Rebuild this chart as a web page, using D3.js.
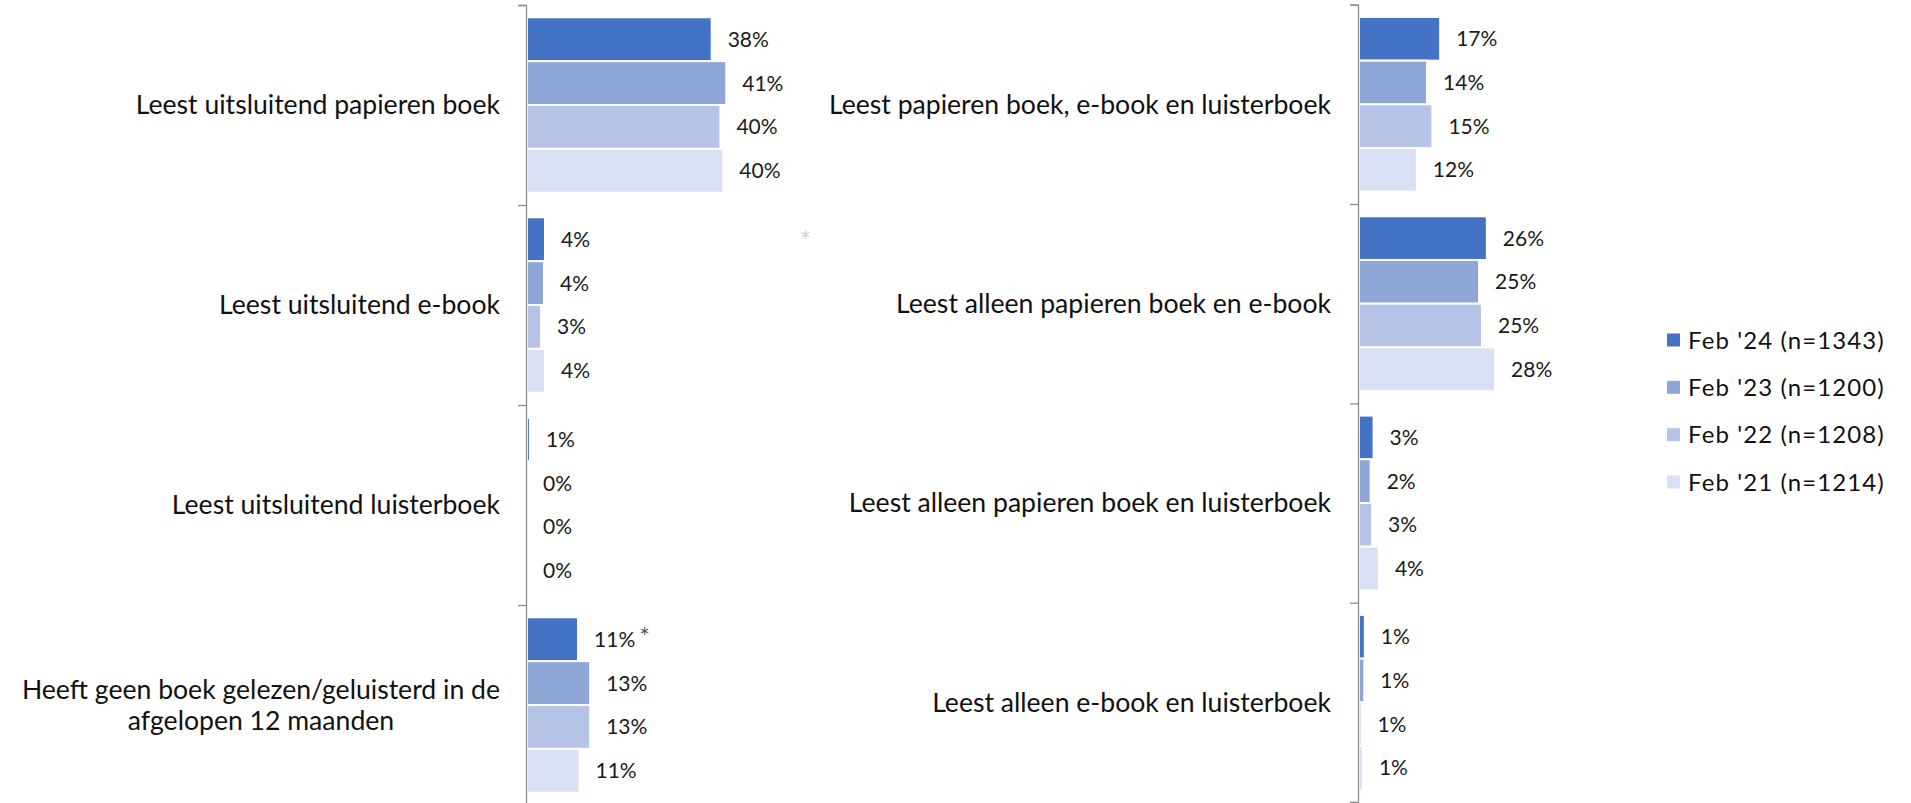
<!DOCTYPE html>
<html><head><meta charset="utf-8">
<script src="https://cdn.jsdelivr.net/npm/d3@7"></script>
<style>
html,body{margin:0;padding:0;background:#fff;}
svg{display:block;font-family:Lato,"Open Sans",sans-serif;}
</style></head><body>
<svg id="chart" width="1911" height="803"></svg>
<script>
// ---- data ----
const seriesNames = ["Feb '24 (n=1343)", "Feb '23 (n=1200)", "Feb '22 (n=1208)", "Feb '21 (n=1214)"];
const seriesColors = ["#4472C4", "#8FA7D7", "#B4C3E6", "#DAE0F3"];

const leftCategories = [
  ["Leest uitsluitend papieren boek"],
  ["Leest uitsluitend e-book"],
  ["Leest uitsluitend luisterboek"],
  ["Heeft geen boek gelezen/geluisterd in de", "afgelopen 12 maanden"]
];
// values per category: [Feb24, Feb23, Feb22, Feb21]
const leftValues = [
  [38.0, 41.0, 39.8, 40.4],
  [3.7, 3.5, 2.9, 3.7],
  [0.6, 0, 0, 0],
  [10.5, 13.0, 13.0, 10.8]
];
const leftLabels = [
  ["38%", "41%", "40%", "40%"],
  ["4%", "4%", "3%", "4%"],
  ["1%", "0%", "0%", "0%"],
  ["11%", "13%", "13%", "11%"]
];
const leftMarks = [["", "", "", ""], ["", "", "", ""], ["", "", "", ""], ["*", "", "", ""]];

const rightCategories = [
  ["Leest papieren boek, e-book en luisterboek"],
  ["Leest alleen papieren boek en e-book"],
  ["Leest alleen papieren boek en luisterboek"],
  ["Leest alleen e-book en luisterboek"]
];
const rightValues = [
  [16.7, 14.0, 15.1, 11.9],
  [26.3, 24.7, 25.3, 28.0],
  [3.0, 2.4, 2.7, 4.1],
  [1.2, 1.1, 0.5, 0.8]
];
const rightLabels = [
  ["17%", "14%", "15%", "12%"],
  ["26%", "25%", "25%", "28%"],
  ["3%", "2%", "3%", "4%"],
  ["1%", "1%", "1%", "1%"]
];
const rightMarks = [["", "", "", ""], ["", "", "", ""], ["", "", "", ""], ["", "", "", ""]];

const svg = d3.select("#chart");
const pxPerPct = 4.86;

function panel(cats, vals, labs, marks, axisX, yRange, labelRight) {
  const g = svg.append("g");
  const idx = cats.map((d, i) => i);
  const y = d3.scaleBand().domain(idx).range(yRange).paddingInner(0).paddingOuter(0);
  const ys = d3.scaleBand().domain(d3.range(seriesNames.length)).range([0, y.bandwidth()]).paddingOuter(0.28).paddingInner(0);
  const x = d3.scaleLinear().domain([0, 100]).range([axisX + 1, axisX + 1 + pxPerPct * 100]);

  cats.forEach((cat, ci) => {
    const cg = g.append("g").attr("transform", `translate(0,${y(ci)})`);
    vals[ci].forEach((v, si) => {
      if (v > 0) {
        cg.append("rect")
          .attr("x", x(0))
          .attr("y", ys(si))
          .attr("width", x(v) - x(0))
          .attr("height", ys.bandwidth())
          .attr("fill", seriesColors[si])
          .attr("stroke", "#fff")
          .attr("stroke-width", 2);
      }
      const t = cg.append("text")
        .attr("x", x(v) + 16)
        .attr("y", ys(si) + ys.bandwidth() / 2)
        .attr("dy", "0.36em")
        .attr("font-size", 21)
        .attr("fill", "#1a1a1a")
        .text(labs[ci][si]);
      if (marks[ci][si]) {
        t.append("tspan").attr("fill", "#595959").attr("font-size", 25).attr("dx", 4).attr("dy", "-0.05em").text(marks[ci][si]);
      }
    });
    // category label
    const cy = y(ci) + y.bandwidth() / 2;
    const lt = g.append("text").attr("font-size", 26.6).attr("fill", "#111");
    if (cat.length === 1) {
      lt.attr("x", labelRight).attr("y", cy).attr("dy", "0.35em").attr("text-anchor", "end").text(cat[0]);
    } else {
      const lh = 31;
      const tmp = [];
      cat.forEach((line, li) => {
        tmp.push(lt.append("tspan").attr("y", cy + (li - (cat.length - 1) / 2) * lh).attr("dy", "0.35em").text(line));
      });
      const w = d3.max(tmp, t => t.node().getComputedTextLength());
      const cx = labelRight - w / 2;
      lt.attr("text-anchor", "middle");
      tmp.forEach(t => t.attr("x", cx));
    }
  });

  // axis with outer ticks at category boundaries
  const yLin = d3.scaleLinear().domain([0, cats.length]).range(yRange);
  const ax = g.append("g").attr("transform", `translate(${axisX},0)`)
    .call(d3.axisLeft(yLin).ticks(cats.length).tickSize(8).tickFormat(""));
  ax.select(".domain").attr("stroke", "#8c8c8c").attr("stroke-width", 1.3);
  ax.selectAll(".tick line").attr("stroke", "#8c8c8c").attr("stroke-width", 1.3);
  return g;
}

panel(leftCategories, leftValues, leftLabels, leftMarks, 526, [5, 805], 500);
panel(rightCategories, rightValues, rightLabels, rightMarks, 1358, [4.7, 802], 1331);

// stray faint asterisk
svg.append("text").attr("x", 800).attr("y", 251).attr("font-size", 26).attr("fill", "#d0d0d0").text("*");

// legend
const leg = svg.append("g");
const legY = d3.scalePoint().domain(seriesNames).range([340, 482]);
seriesNames.forEach((s, i) => {
  leg.append("rect").attr("x", 1667).attr("y", legY(s) - 6.5).attr("width", 13).attr("height", 13).attr("fill", seriesColors[i]);
  leg.append("text").attr("x", 1688).attr("y", legY(s)).attr("dy", "0.36em").attr("font-size", 24).attr("letter-spacing", 1.1).attr("fill", "#111").text(s);
});
</script>
</body></html>
